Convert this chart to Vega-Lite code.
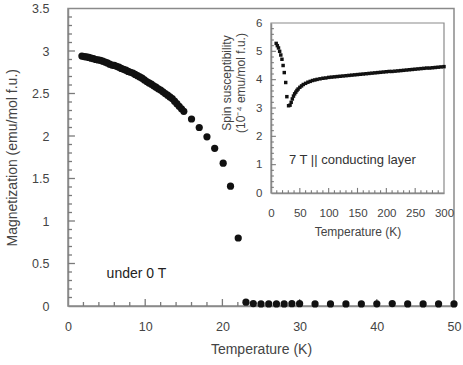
{
  "$schema": "https://vega.github.io/schema/vega-lite/v6.json",
  "width": 386,
  "height": 297.5,
  "autosize": "none",
  "padding": {"left": 68, "top": 8.5, "right": 9, "bottom": 59},
  "background": "white",
  "config": {
    "view": {"stroke": "#8a8a8a", "strokeWidth": 1.5},
    "font": "Liberation Sans",
    "axis": {"grid": false, "labelOverlap": false, "labelFlush": false, "labelBound": false, "domainColor": "#8a8a8a", "domainWidth": 1.5, "labelFont": "Liberation Sans", "titleFont": "Liberation Sans", "labelColor": "#444", "titleColor": "#444", "titleFontWeight": "normal"}
  },
  "datasets": {
    "main": [
      {"T": 1.8, "M": 2.94}, {"T": 2.1, "M": 2.935}, {"T": 2.4, "M": 2.93}, {"T": 2.7, "M": 2.925}, {"T": 3.0, "M": 2.915},
      {"T": 3.3, "M": 2.91}, {"T": 3.6, "M": 2.9}, {"T": 3.9, "M": 2.895}, {"T": 4.2, "M": 2.89}, {"T": 4.5, "M": 2.88},
      {"T": 4.8, "M": 2.87}, {"T": 5.1, "M": 2.86}, {"T": 5.4, "M": 2.845}, {"T": 5.7, "M": 2.835}, {"T": 6.0, "M": 2.83},
      {"T": 6.3, "M": 2.82}, {"T": 6.6, "M": 2.81}, {"T": 6.9, "M": 2.795}, {"T": 7.2, "M": 2.785}, {"T": 7.5, "M": 2.775},
      {"T": 7.8, "M": 2.76}, {"T": 8.1, "M": 2.75}, {"T": 8.4, "M": 2.74}, {"T": 8.7, "M": 2.725}, {"T": 9.0, "M": 2.71},
      {"T": 9.3, "M": 2.695}, {"T": 9.6, "M": 2.68}, {"T": 9.9, "M": 2.66}, {"T": 10.2, "M": 2.64}, {"T": 10.5, "M": 2.625},
      {"T": 10.8, "M": 2.61}, {"T": 11.1, "M": 2.59}, {"T": 11.4, "M": 2.575}, {"T": 11.7, "M": 2.555}, {"T": 12.0, "M": 2.54},
      {"T": 12.3, "M": 2.52}, {"T": 12.6, "M": 2.5}, {"T": 12.9, "M": 2.48}, {"T": 13.2, "M": 2.46}, {"T": 13.5, "M": 2.44},
      {"T": 13.8, "M": 2.41}, {"T": 14.1, "M": 2.38}, {"T": 14.4, "M": 2.35}, {"T": 14.7, "M": 2.32}, {"T": 15.0, "M": 2.29},
      {"T": 16.0, "M": 2.2}, {"T": 17.0, "M": 2.1}, {"T": 18.0, "M": 1.99}, {"T": 19.0, "M": 1.855}, {"T": 20.1, "M": 1.68},
      {"T": 21.05, "M": 1.41}, {"T": 22.05, "M": 0.8}, {"T": 23.05, "M": 0.045}, {"T": 24, "M": 0.028}, {"T": 25, "M": 0.025},
      {"T": 26, "M": 0.025}, {"T": 27, "M": 0.025}, {"T": 28, "M": 0.025}, {"T": 29, "M": 0.027}, {"T": 30, "M": 0.027},
      {"T": 32, "M": 0.025}, {"T": 34, "M": 0.025}, {"T": 36, "M": 0.025}, {"T": 38, "M": 0.025}, {"T": 40, "M": 0.026},
      {"T": 42, "M": 0.028}, {"T": 44, "M": 0.025}, {"T": 46, "M": 0.025}, {"T": 48, "M": 0.025}, {"T": 50, "M": 0.025}
    ],
    "inset": [
      {"T": 9, "chi": 5.28}, {"T": 11, "chi": 5.2}, {"T": 13, "chi": 5.12}, {"T": 15, "chi": 5.0}, {"T": 17, "chi": 4.87},
      {"T": 19, "chi": 4.72}, {"T": 21, "chi": 4.5}, {"T": 23, "chi": 4.25}, {"T": 25.5, "chi": 3.9}, {"T": 27.5, "chi": 3.4},
      {"T": 30.5, "chi": 3.08}, {"T": 33, "chi": 3.1}, {"T": 35, "chi": 3.2}, {"T": 37, "chi": 3.32}, {"T": 39, "chi": 3.42},
      {"T": 41, "chi": 3.5}, {"T": 43, "chi": 3.56}, {"T": 45, "chi": 3.62}, {"T": 47, "chi": 3.67}, {"T": 50, "chi": 3.73},
      {"T": 53, "chi": 3.78}, {"T": 56, "chi": 3.83}, {"T": 60, "chi": 3.87}, {"T": 64, "chi": 3.91}, {"T": 68, "chi": 3.94},
      {"T": 72, "chi": 3.97}, {"T": 76, "chi": 3.99}, {"T": 80, "chi": 4.01}, {"T": 85, "chi": 4.03}, {"T": 90, "chi": 4.05},
      {"T": 95, "chi": 4.06}, {"T": 100, "chi": 4.08}, {"T": 105, "chi": 4.09}, {"T": 110, "chi": 4.1}, {"T": 115, "chi": 4.11},
      {"T": 120, "chi": 4.12}, {"T": 125, "chi": 4.13}, {"T": 130, "chi": 4.14}, {"T": 135, "chi": 4.15}, {"T": 140, "chi": 4.16},
      {"T": 145, "chi": 4.17}, {"T": 150, "chi": 4.18}, {"T": 155, "chi": 4.19}, {"T": 160, "chi": 4.2}, {"T": 165, "chi": 4.21},
      {"T": 170, "chi": 4.22}, {"T": 175, "chi": 4.23}, {"T": 180, "chi": 4.24}, {"T": 185, "chi": 4.25}, {"T": 190, "chi": 4.26},
      {"T": 195, "chi": 4.27}, {"T": 200, "chi": 4.28}, {"T": 205, "chi": 4.29}, {"T": 210, "chi": 4.29}, {"T": 215, "chi": 4.3},
      {"T": 220, "chi": 4.31}, {"T": 225, "chi": 4.32}, {"T": 230, "chi": 4.33}, {"T": 235, "chi": 4.34}, {"T": 240, "chi": 4.35},
      {"T": 245, "chi": 4.36}, {"T": 250, "chi": 4.37}, {"T": 255, "chi": 4.38}, {"T": 260, "chi": 4.39}, {"T": 265, "chi": 4.4},
      {"T": 270, "chi": 4.41}, {"T": 275, "chi": 4.41}, {"T": 280, "chi": 4.42}, {"T": 285, "chi": 4.43}, {"T": 290, "chi": 4.44},
      {"T": 295, "chi": 4.45}, {"T": 300, "chi": 4.46}
    ],
    "one": [{"k": 1}],
    "mxMaj": [{"v": 10}, {"v": 20}, {"v": 30}, {"v": 40}],
    "mxMin": [{"v": 2}, {"v": 4}, {"v": 6}, {"v": 8}, {"v": 12}, {"v": 14}, {"v": 16}, {"v": 18}, {"v": 22}, {"v": 24}, {"v": 26}, {"v": 28}, {"v": 32}, {"v": 34}, {"v": 36}, {"v": 38}, {"v": 42}, {"v": 44}, {"v": 46}, {"v": 48}],
    "myMaj": [{"v": 0.5}, {"v": 1}, {"v": 1.5}, {"v": 2}, {"v": 2.5}, {"v": 3}],
    "myMin": [{"v": 0.1}, {"v": 0.2}, {"v": 0.3}, {"v": 0.4}, {"v": 0.6}, {"v": 0.7}, {"v": 0.8}, {"v": 0.9}, {"v": 1.1}, {"v": 1.2}, {"v": 1.3}, {"v": 1.4}, {"v": 1.6}, {"v": 1.7}, {"v": 1.8}, {"v": 1.9}, {"v": 2.1}, {"v": 2.2}, {"v": 2.3}, {"v": 2.4}, {"v": 2.6}, {"v": 2.7}, {"v": 2.8}, {"v": 2.9}, {"v": 3.1}, {"v": 3.2}, {"v": 3.3}, {"v": 3.4}],
    "ixMaj": [{"v": 50}, {"v": 100}, {"v": 150}, {"v": 200}, {"v": 250}],
    "ixMin": [{"v": 10}, {"v": 20}, {"v": 30}, {"v": 40}, {"v": 60}, {"v": 70}, {"v": 80}, {"v": 90}, {"v": 110}, {"v": 120}, {"v": 130}, {"v": 140}, {"v": 160}, {"v": 170}, {"v": 180}, {"v": 190}, {"v": 210}, {"v": 220}, {"v": 230}, {"v": 240}, {"v": 260}, {"v": 270}, {"v": 280}, {"v": 290}],
    "iyMaj": [{"v": 1}, {"v": 2}, {"v": 3}, {"v": 4}, {"v": 5}],
    "iyMin": [{"v": 0.2}, {"v": 0.4}, {"v": 0.6}, {"v": 0.8}, {"v": 1.2}, {"v": 1.4}, {"v": 1.6}, {"v": 1.8}, {"v": 2.2}, {"v": 2.4}, {"v": 2.6}, {"v": 2.8}, {"v": 3.2}, {"v": 3.4}, {"v": 3.6}, {"v": 3.8}, {"v": 4.2}, {"v": 4.4}, {"v": 4.6}, {"v": 4.8}, {"v": 5.2}, {"v": 5.4}, {"v": 5.6}, {"v": 5.8}]
  },
  "layer": [
    {
      "data": {"name": "mxMaj"},
      "mark": {"type": "rule", "color": "#7a7a7a", "strokeWidth": 1.3},
      "encoding": {
        "x": {"field": "v", "type": "quantitative", "scale": {"domain": [0, 50], "range": [0, 386], "nice": false, "zero": false}, "axis": null},
        "y": {"datum": 0, "type": "quantitative", "scale": {"domain": [0, 3.5], "range": [297.5, 0], "nice": false, "zero": false}, "axis": null},
        "y2": {"datum": 0.082}
      }
    },
    {
      "data": {"name": "mxMin"},
      "mark": {"type": "rule", "color": "#7a7a7a", "strokeWidth": 1.3},
      "encoding": {
        "x": {"field": "v", "type": "quantitative", "scale": {"domain": [0, 50], "range": [0, 386], "nice": false, "zero": false}, "axis": null},
        "y": {"datum": 0, "type": "quantitative", "scale": {"domain": [0, 3.5], "range": [297.5, 0], "nice": false, "zero": false}, "axis": null},
        "y2": {"datum": 0.047}
      }
    },
    {
      "data": {"name": "myMaj"},
      "mark": {"type": "rule", "color": "#7a7a7a", "strokeWidth": 1.3},
      "encoding": {
        "y": {"field": "v", "type": "quantitative", "scale": {"domain": [0, 3.5], "range": [297.5, 0], "nice": false, "zero": false}, "axis": null},
        "x": {"datum": 0, "type": "quantitative", "scale": {"domain": [0, 50], "range": [0, 386], "nice": false, "zero": false}, "axis": null},
        "x2": {"datum": 0.9}
      }
    },
    {
      "data": {"name": "myMin"},
      "mark": {"type": "rule", "color": "#7a7a7a", "strokeWidth": 1.3},
      "encoding": {
        "y": {"field": "v", "type": "quantitative", "scale": {"domain": [0, 3.5], "range": [297.5, 0], "nice": false, "zero": false}, "axis": null},
        "x": {"datum": 0, "type": "quantitative", "scale": {"domain": [0, 50], "range": [0, 386], "nice": false, "zero": false}, "axis": null},
        "x2": {"datum": 0.52}
      }
    },
    {
      "data": {"name": "main"},
      "mark": {"type": "point", "filled": true, "shape": "circle", "size": 52, "color": "#111", "opacity": 1},
      "encoding": {
        "x": {"field": "T", "type": "quantitative", "scale": {"domain": [0, 50], "range": [0, 386], "nice": false, "zero": false},
          "axis": {"orient": "bottom", "values": [0, 10, 20, 30, 40, 50], "ticks": false,
            "labelPadding": 14, "labelFontSize": 12.5, "title": "Temperature (K)", "titleFontSize": 14, "titlePadding": 10}},
        "y": {"field": "M", "type": "quantitative", "scale": {"domain": [0, 3.5], "range": [297.5, 0], "nice": false, "zero": false},
          "axis": {"orient": "left", "values": [0, 0.5, 1, 1.5, 2, 2.5, 3, 3.5], "ticks": false, "format": "~g",
            "labelPadding": 19, "labelFontSize": 12.5, "title": "Magnetization (emu/mol f.u.)", "titleFontSize": 14, "titlePadding": 12}}
      }
    },
    {
      "data": {"name": "one"},
      "mark": {"type": "text", "align": "left", "baseline": "middle", "fontSize": 14, "font": "Liberation Sans", "color": "#222"},
      "encoding": {
        "x": {"datum": 5, "type": "quantitative", "scale": {"domain": [0, 50], "range": [0, 386], "nice": false, "zero": false}, "axis": null},
        "y": {"datum": 0.38, "type": "quantitative", "scale": {"domain": [0, 3.5], "range": [297.5, 0], "nice": false, "zero": false}, "axis": null},
        "text": {"value": "under 0 T"}
      }
    },
    {
      "data": {"name": "one"},
      "mark": {"type": "rect", "fill": "white", "fillOpacity": 0, "stroke": "#8a8a8a", "strokeWidth": 1.2},
      "encoding": {
        "x": {"datum": 0, "type": "quantitative", "scale": {"domain": [0, 300], "range": [203, 376], "nice": false, "zero": false}, "axis": null},
        "x2": {"datum": 300},
        "y": {"datum": 0, "type": "quantitative", "scale": {"domain": [0, 6], "range": [184.5, 14.5], "nice": false, "zero": false}, "axis": null},
        "y2": {"datum": 6}
      }
    },
    {
      "data": {"name": "ixMaj"},
      "mark": {"type": "rule", "color": "#7a7a7a", "strokeWidth": 1.1},
      "encoding": {
        "x": {"field": "v", "type": "quantitative", "scale": {"domain": [0, 300], "range": [203, 376], "nice": false, "zero": false}, "axis": null},
        "y": {"datum": 0, "type": "quantitative", "scale": {"domain": [0, 6], "range": [184.5, 14.5], "nice": false, "zero": false}, "axis": null},
        "y2": {"datum": 0.18}
      }
    },
    {
      "data": {"name": "ixMin"},
      "mark": {"type": "rule", "color": "#7a7a7a", "strokeWidth": 1.1},
      "encoding": {
        "x": {"field": "v", "type": "quantitative", "scale": {"domain": [0, 300], "range": [203, 376], "nice": false, "zero": false}, "axis": null},
        "y": {"datum": 0, "type": "quantitative", "scale": {"domain": [0, 6], "range": [184.5, 14.5], "nice": false, "zero": false}, "axis": null},
        "y2": {"datum": 0.1}
      }
    },
    {
      "data": {"name": "iyMaj"},
      "mark": {"type": "rule", "color": "#7a7a7a", "strokeWidth": 1.1},
      "encoding": {
        "y": {"field": "v", "type": "quantitative", "scale": {"domain": [0, 6], "range": [184.5, 14.5], "nice": false, "zero": false}, "axis": null},
        "x": {"datum": 0, "type": "quantitative", "scale": {"domain": [0, 300], "range": [203, 376], "nice": false, "zero": false}, "axis": null},
        "x2": {"datum": 8.5}
      }
    },
    {
      "data": {"name": "iyMin"},
      "mark": {"type": "rule", "color": "#7a7a7a", "strokeWidth": 1.1},
      "encoding": {
        "y": {"field": "v", "type": "quantitative", "scale": {"domain": [0, 6], "range": [184.5, 14.5], "nice": false, "zero": false}, "axis": null},
        "x": {"datum": 0, "type": "quantitative", "scale": {"domain": [0, 300], "range": [203, 376], "nice": false, "zero": false}, "axis": null},
        "x2": {"datum": 5}
      }
    },
    {
      "data": {"name": "inset"},
      "mark": {"type": "square", "filled": true, "size": 12, "color": "#111", "opacity": 1},
      "encoding": {
        "x": {"field": "T", "type": "quantitative", "scale": {"domain": [0, 300], "range": [203, 376], "nice": false, "zero": false},
          "axis": {"orient": "bottom", "offset": -113, "values": [0, 50, 100, 150, 200, 250, 300], "ticks": false,
            "labelPadding": 14, "labelFontSize": 11.5, "title": "Temperature (K)", "titleFontSize": 12, "titlePadding": 8}},
        "y": {"field": "chi", "type": "quantitative", "scale": {"domain": [0, 6], "range": [184.5, 14.5], "nice": false, "zero": false},
          "axis": {"orient": "left", "offset": -203, "values": [0, 1, 2, 3, 4, 5, 6], "ticks": false,
            "labelPadding": 9, "labelFontSize": 11.5, "title": ["Spin susceptibility", "(10⁻⁴ emu/mol f.u.)"], "titleFontSize": 12, "titlePadding": 8, "titleY": 74}}
      }
    },
    {
      "data": {"name": "one"},
      "mark": {"type": "text", "align": "left", "baseline": "middle", "fontSize": 13, "font": "Liberation Sans", "color": "#333"},
      "encoding": {
        "x": {"datum": 31, "type": "quantitative", "scale": {"domain": [0, 300], "range": [203, 376], "nice": false, "zero": false}, "axis": null},
        "y": {"datum": 1.16, "type": "quantitative", "scale": {"domain": [0, 6], "range": [184.5, 14.5], "nice": false, "zero": false}, "axis": null},
        "text": {"value": "7 T || conducting layer"}
      }
    }
  ],
  "resolve": {"scale": {"x": "independent", "y": "independent"}, "axis": {"x": "independent", "y": "independent"}}
}
